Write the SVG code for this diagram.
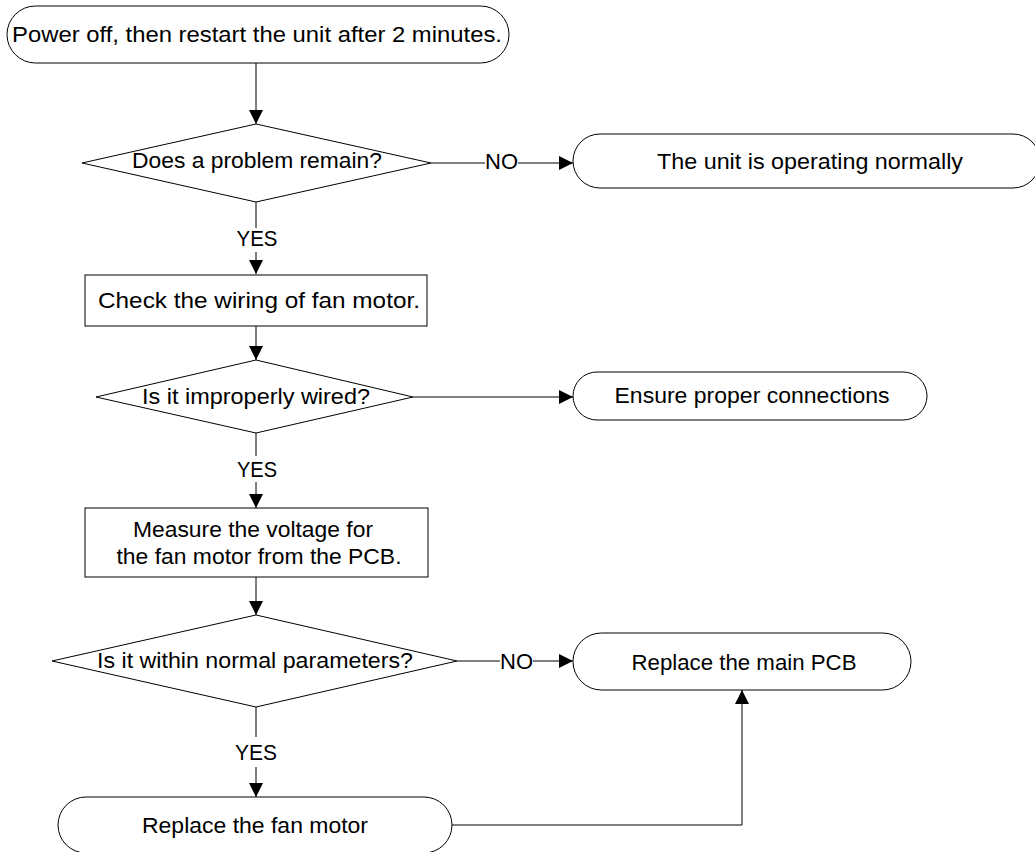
<svg xmlns="http://www.w3.org/2000/svg" width="1035" height="852" viewBox="0 0 1035 852">
<defs>
<style>
.s{fill:#fff;stroke:#000;stroke-width:1}
.t{font-family:"Liberation Sans",Arial,sans-serif;font-size:22.5px;fill:#000;text-anchor:middle}
.c{fill:none;stroke:#000;stroke-width:1}
</style>
<marker id="ah" viewBox="0 0 10 10" refX="10" refY="5" markerWidth="14" markerHeight="14" markerUnits="userSpaceOnUse" orient="auto">
<path d="M0,0 L10,5 L0,10 Z" fill="#000"/>
</marker>
</defs>
<rect width="1035" height="852" fill="#fff"/>
<g id="connectors">
<line class="c" x1="256" y1="63" x2="256" y2="124" marker-end="url(#ah)"/>
<line class="c" x1="431" y1="163" x2="485" y2="163"/>
<line class="c" x1="518" y1="163" x2="573" y2="163" marker-end="url(#ah)"/>
<line class="c" x1="256" y1="202" x2="256" y2="228"/>
<line class="c" x1="256" y1="252" x2="256" y2="274" marker-end="url(#ah)"/>
<line class="c" x1="256" y1="326" x2="256" y2="360" marker-end="url(#ah)"/>
<line class="c" x1="413" y1="397" x2="573" y2="397" marker-end="url(#ah)"/>
<line class="c" x1="256" y1="433" x2="256" y2="456"/>
<line class="c" x1="256" y1="482" x2="256" y2="508" marker-end="url(#ah)"/>
<line class="c" x1="256" y1="577" x2="256" y2="615" marker-end="url(#ah)"/>
<line class="c" x1="457" y1="661" x2="500" y2="661"/>
<line class="c" x1="533" y1="661" x2="573" y2="661" marker-end="url(#ah)"/>
<line class="c" x1="256" y1="707" x2="256" y2="737"/>
<line class="c" x1="256" y1="767" x2="256" y2="797" marker-end="url(#ah)"/>
<polyline class="c" points="452,825 742,825 742,690" marker-end="url(#ah)"/>
<text class="t" x="501.5" y="169" textLength="33" lengthAdjust="spacingAndGlyphs">NO</text>
<text class="t" x="257" y="246" textLength="41" lengthAdjust="spacingAndGlyphs">YES</text>
<text class="t" x="257" y="477" textLength="40" lengthAdjust="spacingAndGlyphs">YES</text>
<text class="t" x="516.5" y="669" textLength="33" lengthAdjust="spacingAndGlyphs">NO</text>
<text class="t" x="256" y="760" textLength="42" lengthAdjust="spacingAndGlyphs">YES</text>
</g>
<g id="n1">
<rect class="s" x="7" y="6" width="502" height="57" rx="28.5"/>
<text class="t" x="257" y="42" textLength="490" lengthAdjust="spacingAndGlyphs">Power off, then restart the unit after 2 minutes.</text>
</g>
<g id="d1">
<polygon class="s" points="256,124 431,163 256,202 82,163"/>
<text class="t" x="257" y="168" textLength="250" lengthAdjust="spacingAndGlyphs">Does a problem remain?</text>
</g>
<g id="n2">
<rect class="s" x="573" y="134" width="467" height="54" rx="27"/>
<text class="t" x="810" y="169" textLength="306" lengthAdjust="spacingAndGlyphs">The unit is operating normally</text>
</g>
<g id="b1">
<rect class="s" x="85" y="275" width="342" height="51"/>
<text class="t" x="259" y="308" textLength="322" lengthAdjust="spacingAndGlyphs">Check the wiring of fan motor.</text>
</g>
<g id="d2">
<polygon class="s" points="256,360 413,397 256,433 96,397"/>
<text class="t" x="256" y="404" textLength="228" lengthAdjust="spacingAndGlyphs">Is it improperly wired?</text>
</g>
<g id="n3">
<rect class="s" x="573" y="372" width="354" height="48" rx="24"/>
<text class="t" x="752" y="403" textLength="275" lengthAdjust="spacingAndGlyphs">Ensure proper connections</text>
</g>
<g id="b2">
<rect class="s" x="85" y="508" width="343" height="69"/>
<text class="t" x="253" y="537" textLength="240" lengthAdjust="spacingAndGlyphs">Measure the voltage for</text>
<text class="t" x="259" y="564" textLength="285" lengthAdjust="spacingAndGlyphs">the fan motor from the PCB.</text>
</g>
<g id="d3">
<polygon class="s" points="256,615 457,661 256,707 52,661"/>
<text class="t" x="255" y="668" textLength="316" lengthAdjust="spacingAndGlyphs">Is it within normal parameters?</text>
</g>
<g id="n4">
<rect class="s" x="573" y="633" width="338" height="57" rx="28.5"/>
<text class="t" x="744" y="670" textLength="225" lengthAdjust="spacingAndGlyphs">Replace the main PCB</text>
</g>
<g id="n5">
<rect class="s" x="58" y="797" width="394" height="56" rx="28"/>
<text class="t" x="255" y="833" textLength="226" lengthAdjust="spacingAndGlyphs">Replace the fan motor</text>
</g>
</svg>
